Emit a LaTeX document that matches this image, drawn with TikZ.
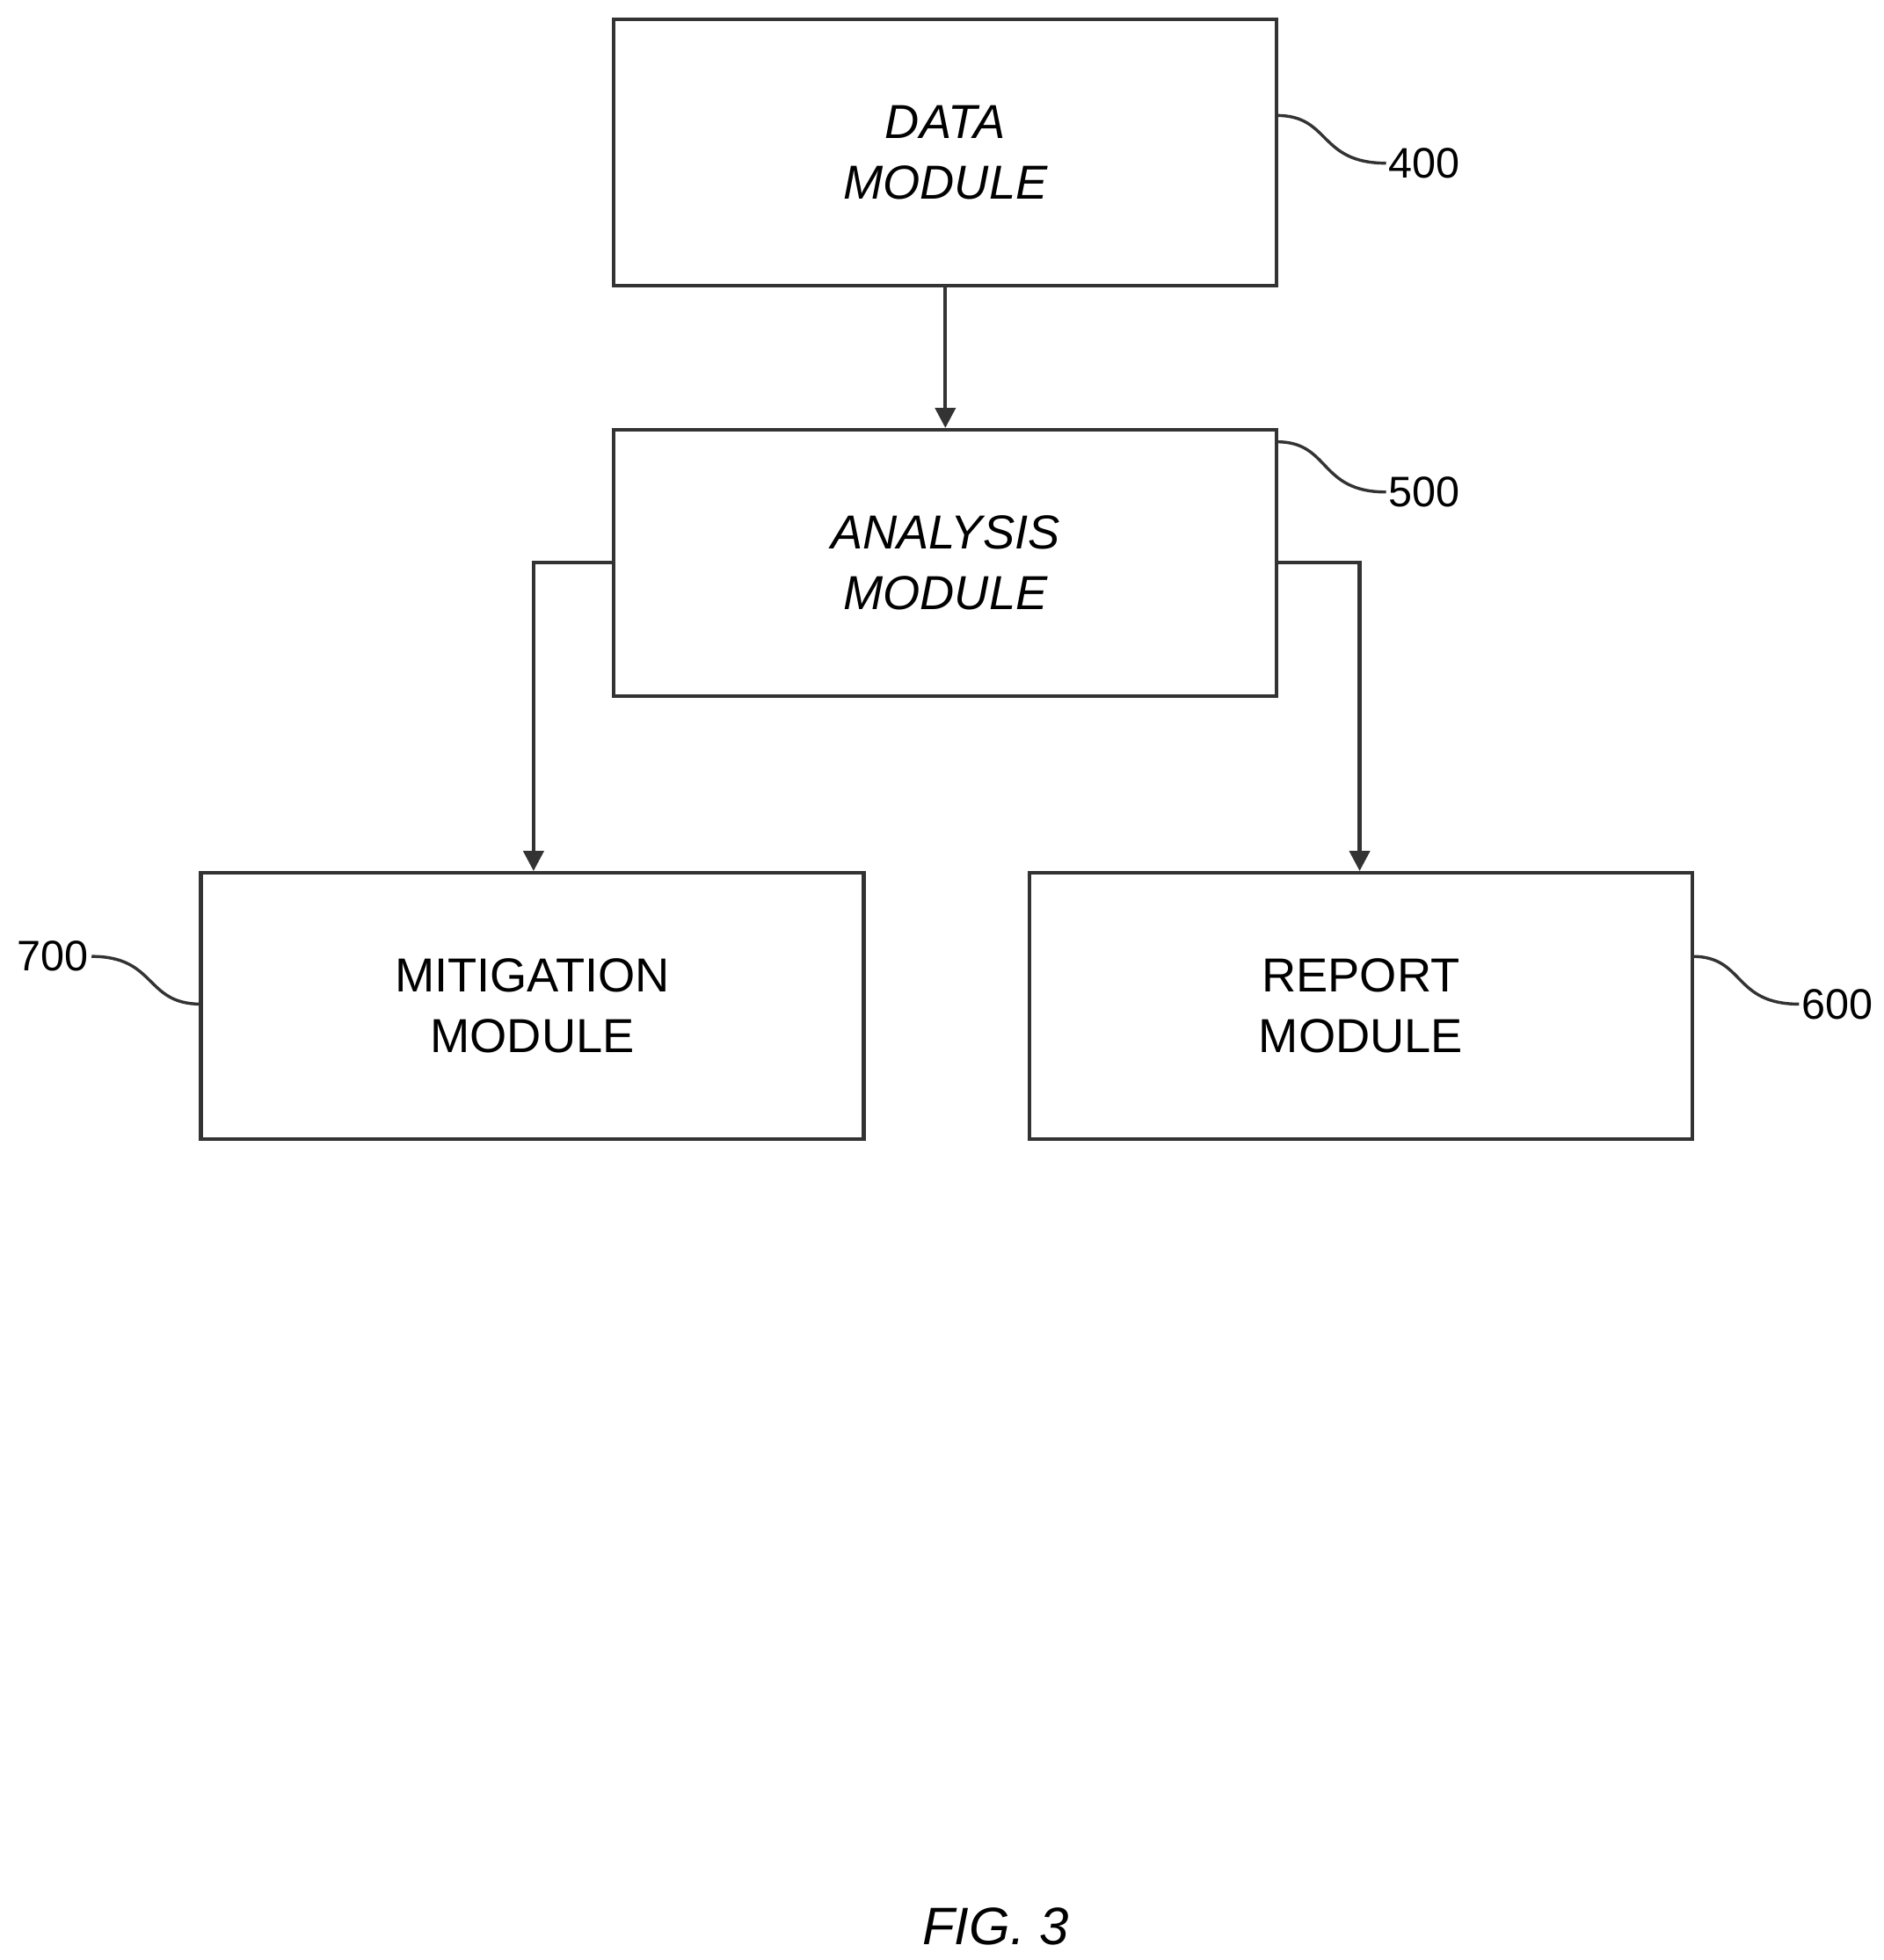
\documentclass[tikz,border=0pt]{standalone}
\usepackage{fontspec}
\setmainfont{Liberation Sans}
\usetikzlibrary{arrows.meta}
\begin{document}
\begin{tikzpicture}[x=0.5pt,y=-0.5pt,
  box/.style={draw=black!80,line width=1.5pt,minimum width=264pt,minimum height=106pt,align=center,font=\fontsize{19}{24}\selectfont,inner sep=0pt},
  arr/.style={draw=black!80,line width=1.5pt,-{Triangle[width=8pt,length=8pt]}},
  lead/.style={draw=black!80,line width=1.2pt},
  lbl/.style={font=\fontsize{17}{20}\selectfont,inner sep=1pt}]
\useasboundingbox (0,0) rectangle (1500,1561.6);
\node[box] (data) at (753,121.5) {\itshape DATA\\\itshape MODULE};
\node[box] (ana) at (753,448.5) {\itshape ANALYSIS\\\itshape MODULE};
\node[box] (mit) at (424,801.5) {MITIGATION\\MODULE};
\node[box] (rep) at (1084,801.5) {REPORT\\MODULE};
\draw[arr] (data.south) -- (ana.north);
\coordinate (lt) at (425,448);
\coordinate (rt) at (1083,448);
\draw[arr] (lt -| ana.west) -- (lt) -- (lt |- mit.north);
\draw[arr] (rt -| ana.east) -- (rt) -- (rt |- rep.north);
\node[lbl,anchor=west] (l400) at (1104,130) {400};
\node[lbl,anchor=west] (l500) at (1104,392) {500};
\node[lbl,anchor=east] (l700) at (73,762) {700};
\node[lbl,anchor=west] (l600) at (1433,800) {600};
\draw[lead] (1017,92) .. controls (1060,92) and (1050,130) .. (l400.west);
\draw[lead] (1017,352) .. controls (1060,352) and (1050,392) .. (l500.west);
\draw[lead] (l700.east) .. controls (125,762) and (115,800) .. (160,800);
\draw[lead] (1348,762) .. controls (1390,762) and (1380,800) .. (l600.west);
\node[font=\fontsize{21}{24}\selectfont\itshape] (fig) at (793,1535) {FIG. 3};
\end{tikzpicture}
\end{document}
